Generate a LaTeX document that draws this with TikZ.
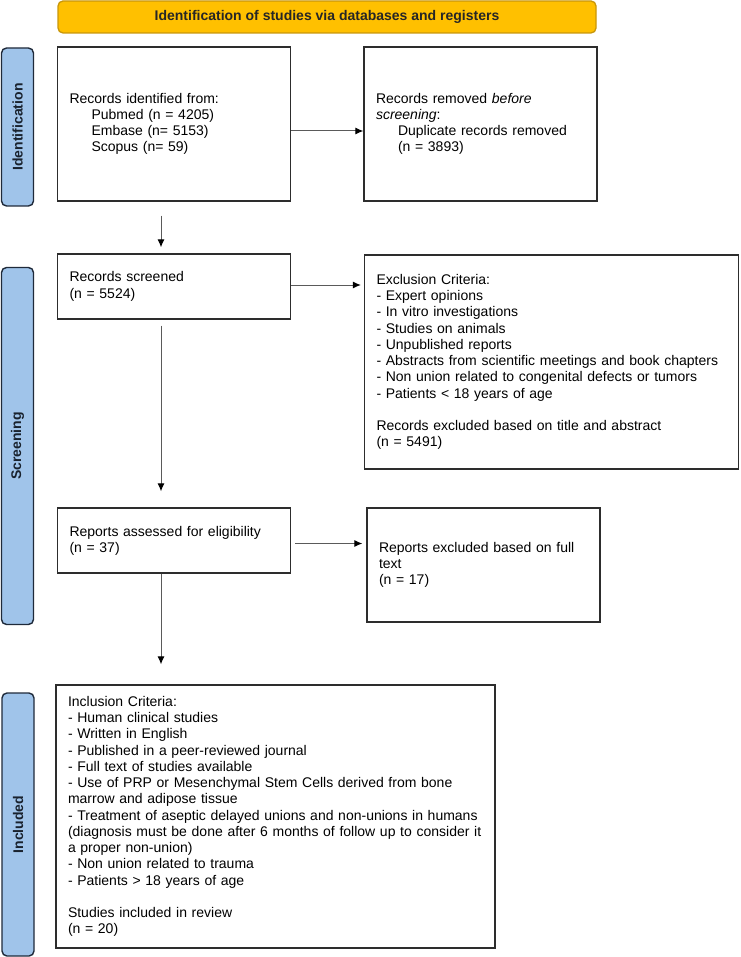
\documentclass[tikz,border=0pt]{standalone}
\usepackage{fontspec}
\setmainfont{Liberation Sans}
\usetikzlibrary{arrows.meta,calc}
\definecolor{barfill}{RGB}{255,192,0}
\definecolor{barline}{RGB}{200,150,10}
\definecolor{labfill}{RGB}{160,196,234}
\definecolor{labline}{RGB}{31,42,58}
\definecolor{boxline}{RGB}{45,45,45}
\definecolor{arrline}{RGB}{90,90,90}
\tikzset{
  bx/.style={draw=boxline, line width=1.3pt, rectangle, inner xsep=12pt, inner ysep=0pt,
    align=left, font=\fontsize{14}{16.25}\selectfont, anchor=center},
  lab/.style={draw=labline, fill=labfill, line width=1.4pt, rounded corners=5pt, rectangle,
    inner sep=0pt, font=\fontsize{14}{16}\selectfont\bfseries, text=labline!80!black},
  arr/.style={draw=arrline, line width=1pt, -{Latex[length=8pt,width=7pt,color=black]}},
}
\newcommand{\ind}{\hspace*{22pt}}
\begin{document}
\begin{tikzpicture}[x=1pt,y=-1pt]
\useasboundingbox (0,0) rectangle (740,957);
% title bar
\node[draw=barline, fill=barfill, line width=1.3pt, rounded corners=5pt, minimum width=538pt,
  minimum height=32pt, inner sep=0pt, font=\fontsize{14}{16}\selectfont\bfseries, text=black!85]
  (title) at (327,17) {Identification of studies via databases and registers};
% side labels
\node[lab, minimum width=158pt, minimum height=32pt, rotate=90] (lid) at (17.5,127) {Identification};
\node[lab, minimum width=357pt, minimum height=32pt, rotate=90] (lsc) at (17.5,446) {Screening};
\node[lab, minimum width=263pt, minimum height=32pt, rotate=90] (lin) at (18,824.5) {Included};
% boxes
\node[bx, minimum width=233pt, minimum height=154pt, text width=209pt] (b1) at (174,124)
  {Records identified from:\\ \ind Pubmed (n = 4205)\\ \ind Embase (n= 5153)\\ \ind Scopus (n= 59)};
\node[bx, minimum width=233pt, minimum height=154pt, text width=209pt] (b2) at (480.5,124)
  {Records removed \textit{before}\\ \textit{screening}:\\ \ind Duplicate records removed\\ \ind (n = 3893)};
\node[bx, minimum width=233pt, minimum height=65pt, text width=209pt] (b3) at (174,286.5)
  {Records screened\\ (n = 5524)};
\node[bx, minimum width=374pt, minimum height=214pt, text width=350pt] (b4) at (551.5,362)
  {Exclusion Criteria:\\ - Expert opinions\\ - In vitro investigations\\ - Studies on animals\\ - Unpublished reports\\ - Abstracts from scientific meetings and book chapters\\ - Non union related to congenital defects or tumors\\ - Patients < 18 years of age\\[16.25pt] Records excluded based on title and abstract\\ (n = 5491)};
\node[bx, minimum width=233pt, minimum height=65pt, text width=209pt] (b5) at (174,540.5)
  {Reports assessed for eligibility\\ (n = 37)};
\node[bx, minimum width=233pt, minimum height=114pt, text width=209pt] (b6) at (483.5,565)
  {Reports excluded based on full\\ text\\ (n = 17)};
\node[bx, minimum width=439pt, minimum height=263pt, text width=415pt] (b7) at (275.5,816.5)
  {Inclusion Criteria:\\ - Human clinical studies\\ - Written in English\\ - Published in a peer-reviewed journal\\ - Full text of studies available\\ - Use of PRP or Mesenchymal Stem Cells derived from bone\\ marrow and adipose tissue\\ - Treatment of aseptic delayed unions and non-unions in humans\\ (diagnosis must be done after 6 months of follow up to consider it\\ a proper non-union)\\ - Non union related to trauma\\ - Patients > 18 years of age\\[16.25pt] Studies included in review\\ (n = 20)};
% arrows
\draw[arr] ([yshift=-7pt]b1.east) -- ([yshift=-7pt]b2.west);
\draw[arr, shorten <=14pt, shorten >=6pt] ([xshift=-13pt]b1.south) -- ([xshift=-13pt]b1.south |- b3.north);
\draw[arr, shorten >=3pt] ([yshift=1.5pt]b3.east) -- ([yshift=1.5pt]b3.east -| b4.west);
\draw[arr, shorten <=6pt, shorten >=16pt] ([xshift=-13pt]b3.south) -- ([xshift=-13pt]b3.south |- b5.north);
\draw[arr, shorten <=4pt, shorten >=4pt] ([yshift=-3pt]b5.east) -- ([yshift=-3pt]b5.east -| b6.west);
\draw[arr, shorten >=20pt] ([xshift=-13pt]b5.south) -- ([xshift=-13pt]b5.south |- b7.north);
\end{tikzpicture}
\end{document}
